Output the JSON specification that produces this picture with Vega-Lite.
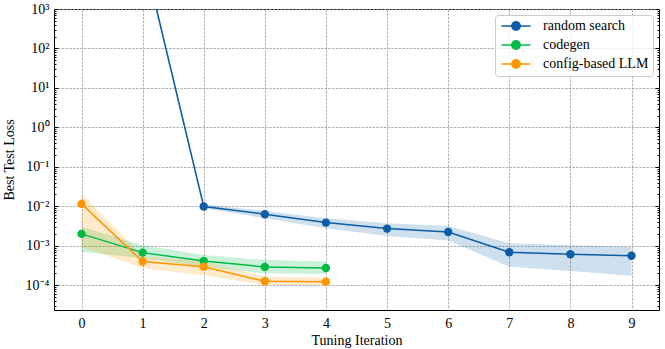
{
  "$schema": "https://vega.github.io/schema/vega-lite/v6.json",
  "autosize": {"type": "none"},
  "width": 605,
  "height": 301,
  "padding": {"left": 54, "top": 9, "right": 6, "bottom": 39},
  "background": "white",
  "config": {
    "view": {"stroke": "#000000", "strokeWidth": 1},
    "font": "Liberation Serif",
    "axis": {
      "labelFont": "Liberation Serif",
      "titleFont": "Liberation Serif",
      "labelFontSize": 14,
      "titleFontSize": 14,
      "labelColor": "#000",
      "titleColor": "#000",
      "titleFontWeight": "normal",
      "domain": false,
      "gridColor": "#9a9a9a",
      "gridDash": [2.5, 1.2],
      "gridWidth": 0.8,
      "tickColor": "#000"
    },
    "legend": {"labelFont": "Liberation Serif", "labelFontSize": 14}
  },
  "datasets": {
    "runs": [
      {"method": "random search", "iter": 0, "loss": 50000, "lo": 30000, "hi": 80000},
      {"method": "random search", "iter": 1, "loss": 29000, "lo": 22000, "hi": 38000},
      {"method": "random search", "iter": 2, "loss": 0.0099, "lo": 0.0089, "hi": 0.0112},
      {"method": "random search", "iter": 3, "loss": 0.0063, "lo": 0.0050, "hi": 0.0076},
      {"method": "random search", "iter": 4, "loss": 0.00386, "lo": 0.00278, "hi": 0.00499},
      {"method": "random search", "iter": 5, "loss": 0.00272, "lo": 0.00177, "hi": 0.00372},
      {"method": "random search", "iter": 6, "loss": 0.00224, "lo": 0.00135, "hi": 0.00318},
      {"method": "random search", "iter": 7, "loss": 0.000685, "lo": 0.000295, "hi": 0.00116},
      {"method": "random search", "iter": 8, "loss": 0.00061, "lo": 0.00023, "hi": 0.00103},
      {"method": "random search", "iter": 9, "loss": 0.00056, "lo": 0.000175, "hi": 0.00095},
      {"method": "codegen", "iter": 0, "loss": 0.0020, "lo": 0.00071, "hi": 0.00305},
      {"method": "codegen", "iter": 1, "loss": 0.00067, "lo": 0.00048, "hi": 0.00105},
      {"method": "codegen", "iter": 2, "loss": 0.00041, "lo": 0.000295, "hi": 0.00058},
      {"method": "codegen", "iter": 3, "loss": 0.00029, "lo": 0.0002, "hi": 0.00044},
      {"method": "codegen", "iter": 4, "loss": 0.000274, "lo": 0.000193, "hi": 0.0004},
      {"method": "config-based LLM", "iter": 0, "loss": 0.0115, "lo": 0.00095, "hi": 0.0215},
      {"method": "config-based LLM", "iter": 1, "loss": 0.0004, "lo": 0.00027, "hi": 0.00055},
      {"method": "config-based LLM", "iter": 2, "loss": 0.000295, "lo": 0.00018, "hi": 0.0004},
      {"method": "config-based LLM", "iter": 3, "loss": 0.000126, "lo": 0.000102, "hi": 0.000166},
      {"method": "config-based LLM", "iter": 4, "loss": 0.000123, "lo": 0.000102, "hi": 0.000155}
    ]
  },
  "data": {"name": "runs"},
  "encoding": {
    "x": {
      "field": "iter",
      "type": "quantitative",
      "scale": {"domain": [-0.45, 9.45], "nice": false, "zero": false},
      "axis": {
        "title": "Tuning Iteration",
        "values": [0, 1, 2, 3, 4, 5, 6, 7, 8, 9],
        "ticks": false,
        "labelPadding": 6,
        "titlePadding": 3,
        "grid": true
      }
    },
    "color": {
      "field": "method",
      "type": "nominal",
      "scale": {
        "domain": ["random search", "codegen", "config-based LLM"],
        "range": ["#0C5DA5", "#00B945", "#FF9500"]
      },
      "legend": {
        "title": null,
        "orient": "top-right",
        "offset": 6,
        "padding": 4,
        "rowPadding": 3,
        "symbolOffset": 10,
        "labelOffset": 20,
        "fillColor": "rgba(255,255,255,0.8)",
        "strokeColor": "#cccccc",
        "cornerRadius": 3,
        "symbolType": "M-2.9,0H2.9M0.84,0A0.84,0.84,0,1,1,-0.84,0A0.84,0.84,0,1,1,0.84,0Z",
        "symbolSize": 100,
        "symbolStrokeWidth": 1.5,
        "encode": {
          "symbols": {
            "update": {
              "fill": {"scale": "color", "field": "value"},
              "stroke": {"scale": "color", "field": "value"},
              "opacity": {"value": 1},
              "fillOpacity": {"value": 1},
              "strokeOpacity": {"value": 1},
              "strokeWidth": {"value": 1.5}
            }
          }
        }
      }
    }
  },
  "layer": [
    {
      "mark": {"type": "area", "opacity": 0.2, "clip": true},
      "encoding": {
        "y": {
          "field": "lo",
          "type": "quantitative",
          "scale": {"type": "log", "domain": [2.355e-5, 1000], "nice": false},
          "axis": {
            "orient": "left",
            "title": "Best Test Loss",
            "titlePadding": 9,
            "values": [3e-5, 4e-5, 5e-5, 6e-5, 7e-5, 8e-5, 9e-5,
                       1e-4, 2e-4, 3e-4, 4e-4, 5e-4, 6e-4, 7e-4, 8e-4, 9e-4,
                       1e-3, 2e-3, 3e-3, 4e-3, 5e-3, 6e-3, 7e-3, 8e-3, 9e-3,
                       1e-2, 2e-2, 3e-2, 4e-2, 5e-2, 6e-2, 7e-2, 8e-2, 9e-2,
                       1e-1, 2e-1, 3e-1, 4e-1, 5e-1, 6e-1, 7e-1, 8e-1, 9e-1,
                       1, 2, 3, 4, 5, 6, 7, 8, 9,
                       10, 20, 30, 40, 50, 60, 70, 80, 90,
                       100, 200, 300, 400, 500, 600, 700, 800, 900, 1000],
            "tickSize": {"condition": {"test": "abs(log(datum.value)/LN10 - round(log(datum.value)/LN10)) < 0.01", "value": -4}, "value": -2},
            "labelPadding": 9,
            "labelFlush": false,
            "labelOverlap": false,
            "labelExpr": "abs(log(datum.value)/LN10 - round(log(datum.value)/LN10)) < 0.01 ? '10' + (round(log(datum.value)/LN10) == 3 ? '³' : round(log(datum.value)/LN10) == 2 ? '²' : round(log(datum.value)/LN10) == 1 ? '¹' : round(log(datum.value)/LN10) == 0 ? '⁰' : round(log(datum.value)/LN10) == -1 ? '⁻¹' : round(log(datum.value)/LN10) == -2 ? '⁻²' : round(log(datum.value)/LN10) == -3 ? '⁻³' : '⁻⁴') : ''",
            "grid": true,
            "gridOpacity": {"condition": {"test": "abs(log(datum.value)/LN10 - round(log(datum.value)/LN10)) < 0.01", "value": 1}, "value": 0}
          }
        },
        "y2": {"field": "hi"}
      }
    },
    {
      "mark": {"type": "line", "strokeWidth": 1.5, "clip": true},
      "encoding": {
        "y": {"field": "loss", "type": "quantitative", "axis": null}
      }
    },
    {
      "mark": {"type": "point", "filled": true, "opacity": 1, "size": 70, "clip": true},
      "encoding": {
        "y": {
          "field": "loss",
          "type": "quantitative",
          "axis": {
            "orient": "right",
            "title": null,
            "labels": false,
            "grid": false,
            "tickSize": {"condition": {"test": "abs(log(datum.value)/LN10 - round(log(datum.value)/LN10)) < 0.01", "value": -4}, "value": -2},
            "values": [3e-5, 4e-5, 5e-5, 6e-5, 7e-5, 8e-5, 9e-5,
                       1e-4, 2e-4, 3e-4, 4e-4, 5e-4, 6e-4, 7e-4, 8e-4, 9e-4,
                       1e-3, 2e-3, 3e-3, 4e-3, 5e-3, 6e-3, 7e-3, 8e-3, 9e-3,
                       1e-2, 2e-2, 3e-2, 4e-2, 5e-2, 6e-2, 7e-2, 8e-2, 9e-2,
                       1e-1, 2e-1, 3e-1, 4e-1, 5e-1, 6e-1, 7e-1, 8e-1, 9e-1,
                       1, 2, 3, 4, 5, 6, 7, 8, 9,
                       10, 20, 30, 40, 50, 60, 70, 80, 90,
                       100, 200, 300, 400, 500, 600, 700, 800, 900, 1000]
          }
        }
      }
    }
  ],
  "resolve": {"axis": {"y": "independent"}}
}
